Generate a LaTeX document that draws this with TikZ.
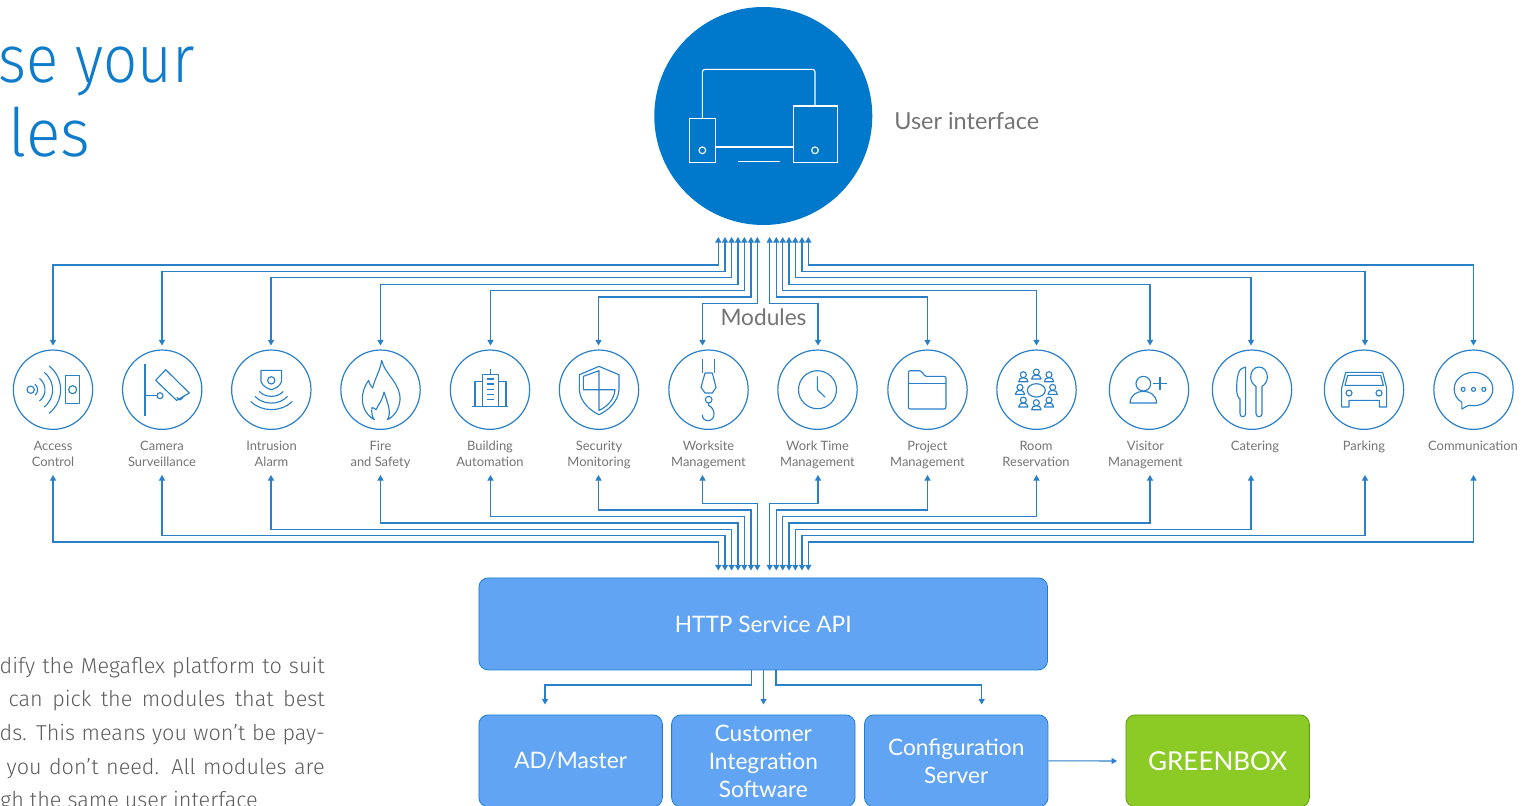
\documentclass[tikz,border=0pt]{standalone}
\usepackage{fontspec}
\usetikzlibrary{arrows.meta}
\setmainfont{Fira Sans Light}
\newfontfamily\lab{Lato}
\definecolor{blueline}{HTML}{2A80C8}
\definecolor{uiblue}{HTML}{0078CC}
\definecolor{boxblue}{HTML}{61A4F3}
\definecolor{boxedge}{HTML}{1E7FD0}
\definecolor{greenfill}{HTML}{8CCB25}
\definecolor{greenedge}{HTML}{5E9A12}
\definecolor{txtgray}{HTML}{747474}
\definecolor{titleblue}{HTML}{0F7CCB}
\tikzset{
  conn/.style={draw=blueline,line width=.78pt,{Triangle[length=4.2pt,width=4.6pt]}-{Triangle[length=4.2pt,width=4.6pt]}},
  oneway/.style={draw=blueline,line width=.78pt,-{Triangle[length=4pt,width=4.4pt]}},
  modcirc/.style={circle,draw=blueline,line width=.9pt,minimum size=59.5pt,inner sep=0pt,outer sep=0pt},
  modlabel/.style={font=\lab\fontsize{9.7}{12}\selectfont,text=txtgray,align=center,anchor=north,inner sep=0pt,execute at begin node=\strut},
  bluebox/.style={draw=boxedge,line width=.6pt,fill=boxblue,rounded corners=7pt,text=white,align=center,inner sep=0pt,anchor=north west,font=\lab\fontsize{17}{21}\selectfont},
  icon/.style={draw=blueline,line width=.85pt,line join=round},
  uiicon/.style={draw=white,line width=.85pt},
  bodytext/.style={font=\fontsize{16.2}{18}\selectfont,text=txtgray!80!black,anchor=base east,inner sep=0pt},
  titletext/.style={anchor=base west,inner sep=0pt,font=\fontsize{50}{50}\selectfont,text=titleblue},
}
\begin{document}
\begin{tikzpicture}[x=.75pt,y=-.75pt]
\useasboundingbox (0,0) rectangle (1528,806);

% title
\node[titletext] (t1) at (-2,83) {\scalebox{.9}[1]{se your}};
\node[titletext] (t2) at (8,157) {\scalebox{.96}[1]{les}};

% body
\node[bodytext] (b1) at (325,673) {\makebox[243.8pt][s]{dify the Megaflex platform to suit}};
\node[bodytext] (b2) at (325,706.5) {\makebox[237pt][s]{can pick the modules that best}};
\node[bodytext] (b3) at (325,740) {\makebox[243.8pt][s]{ds. This means you won’t be pay-}};
\node[bodytext] (b4) at (325,774) {\makebox[238.5pt][s]{you don’t need. All modules are}};
\node[bodytext] (b5) at (258,807) {gh the same user interface};

% UI
\node[circle,fill=uiblue,minimum size=163.5pt,inner sep=0pt] (ui) at (763.3,116) {};
\node[anchor=west,inner sep=0pt,font=\lab\fontsize{17.6}{20}\selectfont,text=txtgray] (uilab) at (894,121) {User interface};
\begin{scope}[shift={(640,0)},x=.25pt,y=-.25pt]
  \draw[uiicon,rounded corners=2pt] (187,355) -- (187,208) -- (525,208) -- (525,318);
  \draw[uiicon] (227,441) -- (460,441);
  \draw[uiicon] (294,484) -- (420,484);
  \draw[uiicon] (148,355) rectangle (227,488);
  \draw[uiicon] (187,451) circle[radius=10];
  \draw[uiicon] (460,318) rectangle (593,488);
  \draw[uiicon] (525,451) circle[radius=10];
\end{scope}

% modules
\foreach \i/\cx/\lx/\ly/\tip/\ux/\ty/\ax/\by/\txt in {
 1/53/53/440.6/53/718.3/265/718.3/542/{Access\\Control},
 2/162.2/162/440.6/162/725/271.3/725/535.7/{Camera\\Surveillance},
 3/271.3/271.5/440.6/271/731.6/277.7/731.6/529.3/{Intrusion\\Alarm},
 4/380.5/380.5/440.6/380.5/738/284.3/738/523/{Fire\\and Safety},
 5/490/490/440.6/490.5/744.3/290.7/744.3/516.3/{Building\\Automation},
 6/599/599/440.6/598.5/751/297/751/510/{Security\\Monitoring},
 7/708.5/708.5/440.6/702.5/757.3/303.7/757.3/503.7/{Worksite\\Management},
 8/817.5/817.5/440.6/818/769.7/303.7/769.7/503.7/{Work Time\\Management},
 9/927.5/927.5/440.6/927.5/776.3/297/776.3/510/{Project\\Management},
 10/1036.5/1036/440.6/1036.5/782.7/290.7/782.7/516.3/{Room\\Reservation},
 11/1149/1145.5/440.6/1150/789/284.3/789/523/{Visitor\\Management},
 12/1252/1255/438.6/1251/795.3/277.7/795.3/529.3/{Catering},
 13/1364/1364/438.6/1365/802/271.3/802/535.7/{Parking},
 14/1473.5/1473/438.6/1473.5/808.3/265/808.3/542/{Communication}}{
  \node[modcirc] (m\i) at (\cx,389.7) {};
  \node[modlabel] (l\i) at (\lx,\ly) {\txt};
  \coordinate (T\i) at (\tip,345.5);
  \coordinate (U\i) at (\ux,237);
  \coordinate (B\i) at (\tip,475);
  \coordinate (A\i) at (\ax,570.5);
  \draw[conn] (T\i) -- (T\i |- 0,\ty) -- (U\i |- 0,\ty) -- (U\i);
  \draw[conn] (B\i) -- (B\i |- 0,\by) -- (A\i |- 0,\by) -- (A\i);
}
\node[fill=white,inner sep=0pt,font=\lab\fontsize{17}{20}\selectfont,text=txtgray] (modlab) at (763.5,317) {Modules};

% access icon
\begin{scope}[shift={(53,389.7)},x=.25pt,y=-.25pt,shift={(-159,-150)}]
 \draw[icon] (92,150) circle[radius=11];
 \foreach \r in {21,43,66,90}{\draw[icon] (92,150) ++(-52:\r) arc[start angle=-52,end angle=52,radius=\r];}
 \draw[icon] (197,107) rectangle (238,192);
 \draw[icon] (218,150) circle[radius=12];
\end{scope}
% camera
\begin{scope}[shift={(162.2,389.7)},x=.25pt,y=-.25pt,shift={(-486.6,-150)}]
 \draw[icon] (435,72) -- (435,228);
 \draw[icon] (435,168) -- (471,168);
 \draw[icon] (480,168) circle[radius=9];
 \draw[icon] (497,90) -- (568,160) -- (530,182) -- (467,122) -- cycle;
 \draw[icon] (530,173) -- (541,181) -- (553,168);
\end{scope}
% intrusion
\begin{scope}[shift={(271.3,389.7)},x=.25pt,y=-.25pt,shift={(-814,-150)}]
 \draw[icon] (783,92) -- (845,92) -- (845,125) .. controls (840,140) and (825,147) .. (814,150) .. controls (803,147) and (788,140) .. (783,125) -- cycle;
 \draw[icon] (814,122) circle[radius=11];
 \draw[icon] (778,155) .. controls (795,175) and (833,175) .. (850,155);
 \draw[icon] (765,170) .. controls (790,197) and (838,197) .. (863,170);
 \draw[icon] (752,185) .. controls (785,218) and (844,218) .. (877,185);
\end{scope}
% fire
\begin{scope}[shift={(380.5,389.7)},x=.25pt,y=-.25pt,shift={(-151.5,-150)}]
 \draw[icon] (133,240) .. controls (105,225) and (90,190) .. (100,155) .. controls (104,140) and (110,130) .. (116,122) .. controls (118,130) and (120,138) .. (128,145) .. controls (135,115) and (150,95) .. (155,62) .. controls (165,105) and (212,130) .. (210,180) .. controls (208,210) and (190,232) .. (172,240) .. controls (185,222) and (175,195) .. (162,157) .. controls (158,180) and (145,195) .. (138,210) .. controls (134,206) and (130,204) .. (126,204) .. controls (124,218) and (126,232) .. (133,240) -- cycle;
\end{scope}
% building
\begin{scope}[shift={(490,389.7)},x=.25pt,y=-.25pt,shift={(-480,-150)}]
 \draw[icon] (427,200) -- (535,200);
 \draw[icon] (458,200) -- (458,105) -- (505,105) -- (505,200);
 \draw[icon] (481,88) -- (481,105);
 \draw[icon] (435,200) -- (435,125) -- (458,125);
 \draw[icon] (505,125) -- (528,125) -- (528,200);
 \foreach \y in {118,133,150,165,180}{\draw[icon] (470,\y) -- (493,\y);}
\end{scope}
% security
\begin{scope}[shift={(599,389.7)},x=.25pt,y=-.25pt,shift={(-807,-150)}]
 \draw[icon] (807,80) -- (867,105) -- (867,150) .. controls (865,185) and (835,212) .. (807,225) .. controls (779,212) and (750,185) .. (748,150) -- (748,105) -- cycle;
 \draw[icon] (807,93) -- (760,110) -- (760,150) -- (855,150) .. controls (853,180) and (830,202) .. (807,212) -- cycle;
\end{scope}
% worksite
\begin{scope}[shift={(708.5,389.7)},x=.25pt,y=-.25pt,shift={(-145.5,-150)}]
 \draw[icon] (128,57) -- (128,100); \draw[icon] (163,57) -- (163,100);
 \draw[icon] (135,100) -- (157,100) -- (168,143) -- (157,160) -- (135,160) -- (123,143) -- cycle;
 \draw[icon] (146,180) circle[radius=10];
 \draw[icon] (146,190) -- (146,197) .. controls (165,205) and (170,240) .. (145,243) .. controls (135,243) and (127,238) .. (127,225);
\end{scope}
% work time
\begin{scope}[shift={(817.5,389.7)},x=.25pt,y=-.25pt,shift={(-472.5,-150)}]
 \draw[icon] (472.5,150) circle[radius=57];
 \draw[icon] (472,110) -- (472,150) -- (495,172);
\end{scope}
% project
\begin{scope}[shift={(927.5,389.7)},x=.25pt,y=-.25pt,shift={(-802.5,-150)}]
 \draw[icon,rounded corners=1.5pt] (745,130) -- (745,93) -- (785,93) -- (793,110) -- (858,110) -- (858,208) -- (745,208) -- cycle;
 \draw[icon] (745,131) -- (858,131);
\end{scope}
% room
\begin{scope}[shift={(1036.5,389.7)},x=.25pt,y=-.25pt,shift={(-169.5,-150)}]
 \draw[icon] (169,152) ellipse[x radius=27,y radius=20];
 \foreach \px/\py in {130/112,169/104,207/112,120/150,218/150,130/188,169/196,207/188}{
  \draw[icon] (\px,\py-7) circle[radius=9];
  \draw[icon] (\px-14,\py+14) .. controls (\px-14,\py+6) and (\px-8,\py+2) .. (\px,\py+2) .. controls (\px+8,\py+2) and (\px+14,\py+6) .. (\px+14,\py+14) -- cycle;
 }
\end{scope}
% visitor
\begin{scope}[shift={(1149,389.7)},x=.25pt,y=-.25pt,shift={(-507,-150)}]
 \draw[icon] (490,132) circle[radius=22];
 \draw[icon] (450,190) .. controls (452,165) and (470,155) .. (490,155) .. controls (510,155) and (528,165) .. (530,190) -- cycle;
 \draw[icon] (540,112) -- (540,152);
 \draw[icon] (520,132) -- (560,132);
\end{scope}
% catering
\begin{scope}[shift={(1252,389.7)},x=.25pt,y=-.25pt,shift={(-816,-150)}]
 \draw[icon] (797,82) .. controls (780,85) and (770,95) .. (770,150) .. controls (770,165) and (775,175) .. (780,178) -- (780,222) .. controls (780,234) and (797,234) .. (797,222) -- cycle;
 \draw[icon] (828,140) -- (828,222) .. controls (828,234) and (846,234) .. (846,222) -- (846,140) .. controls (855,135) and (862,125) .. (862,112) .. controls (862,95) and (852,82) .. (837,82) .. controls (822,82) and (812,95) .. (812,112) .. controls (812,125) and (819,135) .. (828,140) -- cycle;
\end{scope}
% parking
\begin{scope}[shift={(1364,389.7)},x=.25pt,y=-.25pt,shift={(-252,-150)}]
 \draw[icon] (197,98) -- (308,98) -- (320,145) -- (320,202) -- (298,202) -- (298,182) -- (207,182) -- (207,202) -- (185,202) -- (185,145) -- cycle;
 \draw[icon] (203,107) -- (302,107) -- (310,137) -- (195,137) -- cycle;
 \draw[icon] (207,160) circle[radius=9];
 \draw[icon] (297,160) circle[radius=9];
\end{scope}
% communication
\begin{scope}[shift={(1473.5,389.7)},x=.25pt,y=-.25pt,shift={(-580,-150)}]
 \draw[icon] (545,188) .. controls (530,178) and (522,165) .. (522,148) .. controls (522,120) and (548,98) .. (580,98) .. controls (612,98) and (638,120) .. (638,148) .. controls (638,176) and (612,198) .. (580,198) .. controls (575,198) and (570,198) .. (565,197) -- (545,208) -- cycle;
 \foreach \x in {549,580,611}{\draw[icon] (\x,149) circle[radius=6];}
\end{scope}

% bottom boxes
\node[bluebox,minimum width=426.5pt,minimum height=69pt] (api) at (478.5,577.5) {HTTP Service API};
\node[bluebox,minimum width=137.6pt,minimum height=69pt] (ad) at (478.5,714.5) {AD/Master};
\node[bluebox,minimum width=137.6pt,minimum height=69pt] (cis) at (671.2,714.5) {Customer\\Integration\\Software};
\node[bluebox,minimum width=137.6pt,minimum height=69pt] (cfg) at (864.1,714.5) {Configuration\\Server};
\node[bluebox,draw=greenedge,fill=greenfill,minimum width=137.6pt,minimum height=69pt,font=\lab\fontsize{19.5}{24}\selectfont] (gb) at (1125.5,714.5) {GREENBOX};

\coordinate (ad-in) at (545,704.5);
\coordinate (cis-in) at (763.5,704.5);
\coordinate (cfg-in) at (981.7,704.5);
\coordinate (gb-in) at (1117,761);
\draw[oneway] (api.south -| 751.3,0) -- (751.3,685) -- (ad-in |- 0,685) -- (ad-in);
\draw[oneway] (cis-in |- api.south) -- (cis-in);
\draw[oneway] (api.south -| 776,0) -- (776,685) -- (cfg-in |- 0,685) -- (cfg-in);
\draw[oneway] (cfg.east) -- (gb-in);
\end{tikzpicture}
\end{document}
